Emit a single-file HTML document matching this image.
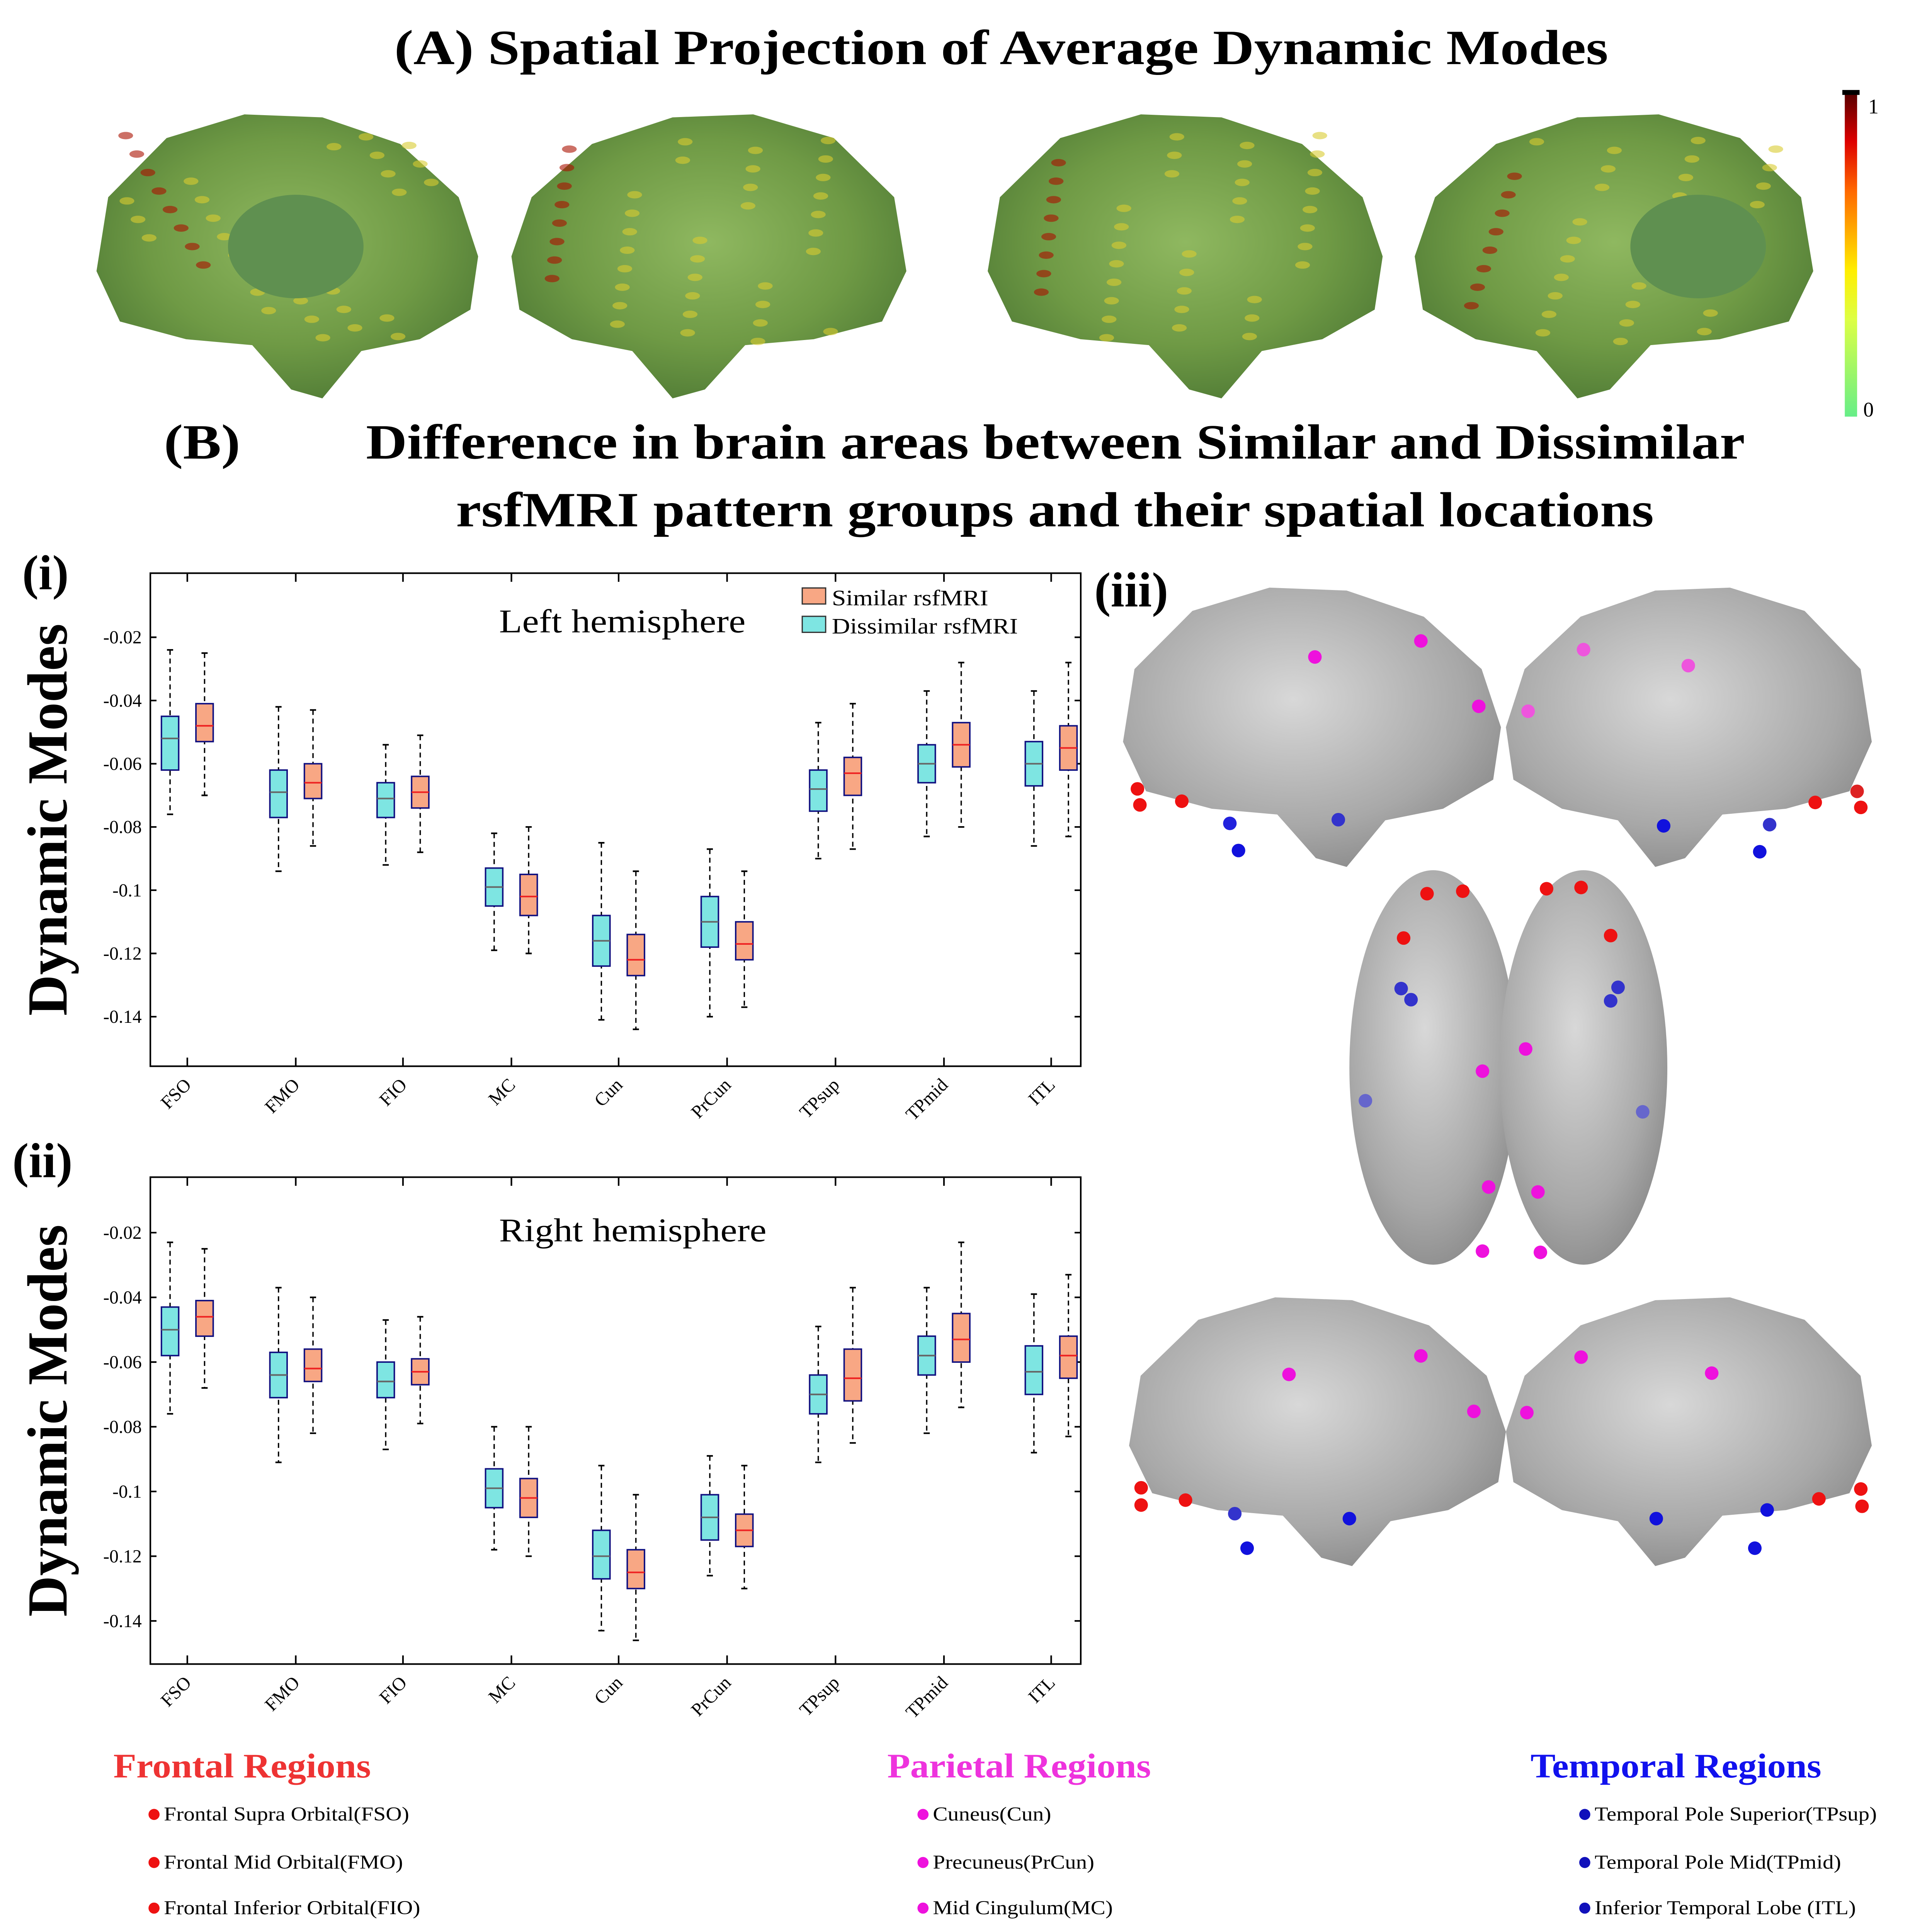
<!DOCTYPE html>
<html><head><meta charset="utf-8"><style>
html,body{margin:0;padding:0;background:#fff;overflow:hidden;width:5005px;height:5087px}
svg{display:block}
</style></head><body>
<svg id="s" xmlns="http://www.w3.org/2000/svg" width="4921" height="5002" viewBox="0 0 1543 1568" preserveAspectRatio="none" font-family="Liberation Serif, serif">
<defs>
<linearGradient id="cb" x1="0" y1="1" x2="0" y2="0">
<stop offset="0" stop-color="#66ee88"/><stop offset="0.3" stop-color="#ddff44"/><stop offset="0.45" stop-color="#ffee00"/><stop offset="0.7" stop-color="#ff6600"/><stop offset="0.85" stop-color="#dd0000"/><stop offset="1" stop-color="#550000"/></linearGradient>
<radialGradient id="gb" cx="0.5" cy="0.45" r="0.6"><stop offset="0" stop-color="#8fb860"/><stop offset="0.6" stop-color="#6f9a45"/><stop offset="1" stop-color="#4f7a35"/></radialGradient>
<radialGradient id="gr" cx="0.45" cy="0.4" r="0.65"><stop offset="0" stop-color="#d8d8d8"/><stop offset="0.7" stop-color="#a8a8a8"/><stop offset="1" stop-color="#8a8a8a"/></radialGradient>
</defs>
<g font-weight="bold" fill="#000" font-size="40">
<text x="320" y="52" textLength="985" lengthAdjust="spacingAndGlyphs">(A) Spatial Projection of Average Dynamic Modes</text>
<text x="133" y="372" textLength="62" lengthAdjust="spacingAndGlyphs">(B)</text>
<text x="297" y="372" textLength="1119" lengthAdjust="spacingAndGlyphs">Difference in brain areas between Similar and Dissimilar</text>
<text x="370" y="427" textLength="972" lengthAdjust="spacingAndGlyphs">rsfMRI pattern groups and their spatial locations</text>
<text x="18" y="478" font-size="40">(i)</text>
<text x="10" y="955" font-size="40">(ii)</text>
<text x="888" y="492" font-size="40">(iii)</text>
</g>
<g id="brainsA"></g>
<rect x="1497" y="75" width="10" height="263" fill="url(#cb)"/>
<rect x="1495" y="73" width="14" height="4" fill="#000"/>
<text x="1516" y="92" font-size="17">1</text>
<text x="1512" y="338" font-size="17">0</text>
<g id="charts"></g>
<g id="brainsB"></g>
<g font-size="28" font-weight="bold">
<text x="92" y="1442" fill="#ee3333" textLength="209" lengthAdjust="spacingAndGlyphs">Frontal Regions</text>
<text x="720" y="1442" fill="#ee33dd" textLength="214" lengthAdjust="spacingAndGlyphs">Parietal Regions</text>
<text x="1242" y="1442" fill="#1111ee" textLength="236" lengthAdjust="spacingAndGlyphs">Temporal Regions</text>
</g>
<g font-size="16" fill="#000">
<circle cx="125" cy="1472" r="4.5" fill="#ee1111"/><text x="133" y="1477" textLength="199" lengthAdjust="spacingAndGlyphs">Frontal Supra Orbital(FSO)</text>
<circle cx="125" cy="1511" r="4.5" fill="#ee1111"/><text x="133" y="1516" textLength="194" lengthAdjust="spacingAndGlyphs">Frontal Mid Orbital(FMO)</text>
<circle cx="125" cy="1548" r="4.5" fill="#ee1111"/><text x="133" y="1553" textLength="208" lengthAdjust="spacingAndGlyphs">Frontal Inferior Orbital(FIO)</text>
<circle cx="749" cy="1472" r="4.5" fill="#ee11dd"/><text x="757" y="1477" textLength="96" lengthAdjust="spacingAndGlyphs">Cuneus(Cun)</text>
<circle cx="749" cy="1511" r="4.5" fill="#ee11dd"/><text x="757" y="1516" textLength="131" lengthAdjust="spacingAndGlyphs">Precuneus(PrCun)</text>
<circle cx="749" cy="1548" r="4.5" fill="#ee11dd"/><text x="757" y="1553" textLength="146" lengthAdjust="spacingAndGlyphs">Mid Cingulum(MC)</text>
<circle cx="1286" cy="1472" r="4.5" fill="#1111bb"/><text x="1294" y="1477" textLength="229" lengthAdjust="spacingAndGlyphs">Temporal Pole Superior(TPsup)</text>
<circle cx="1286" cy="1511" r="4.5" fill="#1111bb"/><text x="1294" y="1516" textLength="200" lengthAdjust="spacingAndGlyphs">Temporal Pole Mid(TPmid)</text>
<circle cx="1286" cy="1548" r="4.5" fill="#1111bb"/><text x="1294" y="1553" textLength="212" lengthAdjust="spacingAndGlyphs">Inferior Temporal Lobe (ITL)</text>
</g>
</svg>
<script>
var NS="http://www.w3.org/2000/svg";
function el(p,t,a,txt){var e=document.createElementNS(NS,t);for(var k in a)e.setAttribute(k,a[k]);if(txt!=null)e.textContent=txt;p.appendChild(e);return e;}
var bA=document.getElementById("brainsA");
function brain(g,x0,x1,y0,y1,fill,flip){
 var w=x1-x0,h=y1-y0;
 var pts=[[0.02,0.55],[0.05,0.3],[0.2,0.1],[0.4,0.02],[0.6,0.03],[0.8,0.12],[0.95,0.3],[1,0.5],[0.98,0.68],[0.85,0.78],[0.7,0.82],[0.6,0.98],[0.52,0.95],[0.42,0.8],[0.25,0.78],[0.08,0.72]];
 var d="M";pts.forEach(function(p,i){var px=flip?(1-p[0]):p[0];d+=(x0+px*w).toFixed(1)+","+(y0+p[1]*h).toFixed(1)+(i<pts.length-1?" L":"");});
 el(g,"path",{d:d+"Z",fill:fill,stroke:"none","stroke-linejoin":"round"});
}
[[72,388,false],[415,742,true],[795,1122,false],[1148,1478,true]].forEach(function(b,i){
 brain(bA,b[0],b[1],88,328,"url(#gb)",b[2]);
 for(var k=0;k<40;k++){var rx=b[0]+30+((k*53+i*17)%(b[1]-b[0]-60)),ry=110+((k*37+i*11)%170);
  el(bA,"ellipse",{cx:rx,cy:ry,rx:6,ry:3,fill:k%5==0?"#aa1100":"#d8cc30",opacity:0.6});}
});
[[180,0],[1318,0]].forEach(function(c){el(bA,"ellipse",{cx:c[0]+60,cy:200,rx:55,ry:42,fill:"#5f9050"});});
var C=document.getElementById("charts");
var cats=["FSO","FMO","FIO","MC","Cun","PrCun","TPsup","TPmid","ITL"];
var tx=[152,240,327,415,502,590,678,766,853];
var L=[[[-.024,-.076,-.045,-.062,-.052],[-.025,-.070,-.041,-.053,-.048]],
[[-.042,-.094,-.062,-.077,-.069],[-.043,-.086,-.060,-.071,-.066]],
[[-.054,-.092,-.066,-.077,-.071],[-.051,-.088,-.064,-.074,-.069]],
[[-.082,-.119,-.093,-.105,-.099],[-.080,-.120,-.095,-.108,-.102]],
[[-.085,-.141,-.108,-.124,-.116],[-.094,-.144,-.114,-.127,-.122]],
[[-.087,-.140,-.102,-.118,-.110],[-.094,-.137,-.110,-.122,-.117]],
[[-.047,-.090,-.062,-.075,-.068],[-.041,-.087,-.058,-.070,-.063]],
[[-.037,-.083,-.054,-.066,-.060],[-.028,-.080,-.047,-.061,-.054]],
[[-.037,-.086,-.053,-.067,-.060],[-.028,-.083,-.048,-.062,-.055]]];
var R=[[[-.023,-.076,-.043,-.058,-.050],[-.025,-.068,-.041,-.052,-.046]],
[[-.037,-.091,-.057,-.071,-.064],[-.040,-.082,-.056,-.066,-.062]],
[[-.047,-.087,-.060,-.071,-.066],[-.046,-.079,-.059,-.067,-.063]],
[[-.080,-.118,-.093,-.105,-.099],[-.080,-.120,-.096,-.108,-.102]],
[[-.092,-.143,-.112,-.127,-.120],[-.101,-.146,-.118,-.130,-.125]],
[[-.089,-.126,-.101,-.115,-.108],[-.092,-.130,-.107,-.117,-.112]],
[[-.049,-.091,-.064,-.076,-.070],[-.037,-.085,-.056,-.072,-.065]],
[[-.037,-.082,-.052,-.064,-.058],[-.023,-.074,-.045,-.060,-.053]],
[[-.039,-.088,-.055,-.070,-.063],[-.033,-.083,-.052,-.065,-.058]]];
function chart(top,bot,y02,step,data,title,legend){
 var g=el(C,"g",{});
 var Y=function(v){return y02+(-0.02-v)/0.02*step;};
 el(g,"rect",{x:122,y:top,width:755,height:bot-top,fill:"none",stroke:"#000","stroke-width":1.3});
 var labs=["-0.02","-0.04","-0.06","-0.08","-0.1","-0.12","-0.14"];
 labs.forEach(function(l,i){var y=y02+i*step;
  el(g,"line",{x1:122,x2:127,y1:y,y2:y,stroke:"#000","stroke-width":1.3});
  el(g,"line",{x1:872,x2:877,y1:y,y2:y,stroke:"#000","stroke-width":1.3});
  el(g,"text",{x:115,y:y+5,"text-anchor":"end","font-size":15},l);});
 tx.forEach(function(x,i){
  el(g,"line",{x1:x,x2:x,y1:bot,y2:bot-7,stroke:"#000","stroke-width":1.3});
  el(g,"line",{x1:x,x2:x,y1:top,y2:top+7,stroke:"#000","stroke-width":1.3});
  el(g,"text",{x:x+4,y:bot+16,"text-anchor":"end","font-size":15,transform:"rotate(-45 "+(x+4)+" "+(bot+16)+")"},cats[i]);
  [0,1].forEach(function(j){var d=data[i][j],cx=x+(j?14:-14),col=j?"#f8a784":"#7ee5e2",mc=j?"#ee2222":"#666";
   el(g,"line",{x1:cx,x2:cx,y1:Y(d[0]),y2:Y(d[1]),stroke:"#000","stroke-width":1.1,"stroke-dasharray":"4,3"});
   el(g,"line",{x1:cx-2.5,x2:cx+2.5,y1:Y(d[0]),y2:Y(d[0]),stroke:"#000","stroke-width":1.3});
   el(g,"line",{x1:cx-2.5,x2:cx+2.5,y1:Y(d[1]),y2:Y(d[1]),stroke:"#000","stroke-width":1.3});
   el(g,"rect",{x:cx-7,y:Y(d[2]),width:14,height:Y(d[3])-Y(d[2]),fill:col,stroke:"#101080","stroke-width":1.2});
   el(g,"line",{x1:cx-7,x2:cx+7,y1:Y(d[4]),y2:Y(d[4]),stroke:mc,"stroke-width":1.3});});
 });
 el(g,"text",{x:405,y:top+(legend?48:52),"font-size":27,textLength:(legend?200:217),lengthAdjust:"spacingAndGlyphs"},title);
 if(legend){
  el(g,"rect",{x:651,y:477,width:19,height:13,fill:"#f8a784",stroke:"#333"});
  el(g,"text",{x:675,y:491,"font-size":18,textLength:127,lengthAdjust:"spacingAndGlyphs"},"Similar rsfMRI");
  el(g,"rect",{x:651,y:500,width:19,height:13,fill:"#7ee5e2",stroke:"#333"});
  el(g,"text",{x:675,y:514,"font-size":18,textLength:151,lengthAdjust:"spacingAndGlyphs"},"Dissimilar rsfMRI");
 }
 el(g,"text",{x:0,y:0,"font-size":46,"font-weight":"bold","text-anchor":"middle",transform:"translate(54 "+((top+bot)/2)+") rotate(-90)"},"Dynamic Modes");
}
chart(465,865,517,51.3,L,"Left hemisphere",true);
chart(955,1350,1000,52.5,R,"Right hemisphere",false);
var bB=document.getElementById("brainsB");
brain(bB,905,1218,472,708,"url(#gr)",false);
brain(bB,1222,1525,472,708,"url(#gr)",true);
brain(bB,910,1222,1048,1275,"url(#gr)",false);
brain(bB,1222,1525,1048,1275,"url(#gr)",true);
el(bB,"ellipse",{cx:1163,cy:866,rx:68,ry:160,fill:"url(#gr)"});
el(bB,"ellipse",{cx:1285,cy:866,rx:68,ry:160,fill:"url(#gr)"});
var dots=[[1067,533,"#ee11dd"],[1153,520,"#ee11dd"],[1200,573,"#ee11dd"],[923,640,"#ee1111"],[925,653,"#ee1111"],[959,650,"#ee1111"],[998,668,"#2222dd"],[1005,690,"#1111dd"],[1086,665,"#3333cc"],
[1285,527,"#ee55dd"],[1370,540,"#ee55dd"],[1240,577,"#ee55dd"],[1507,642,"#dd2222"],[1510,655,"#ee1111"],[1473,651,"#ee1111"],[1350,670,"#1111dd"],[1436,669,"#3333cc"],[1428,691,"#1111dd"],
[1158,725,"#ee1111"],[1187,723,"#ee1111"],[1255,721,"#ee1111"],[1283,720,"#ee1111"],[1139,761,"#ee1111"],[1307,759,"#ee1111"],[1137,802,"#3333cc"],[1145,811,"#3333cc"],[1313,801,"#3333cc"],[1307,812,"#3333cc"],[1203,869,"#ee11dd"],[1238,851,"#ee11dd"],[1108,893,"#6666cc"],[1333,902,"#6666cc"],[1208,963,"#ee11dd"],[1248,967,"#ee11dd"],[1203,1015,"#ee11dd"],[1250,1016,"#ee11dd"],
[1046,1115,"#ee11dd"],[1153,1100,"#ee11dd"],[1196,1145,"#ee11dd"],[926,1207,"#ee1111"],[926,1221,"#ee1111"],[962,1217,"#ee1111"],[1002,1228,"#3333cc"],[1012,1256,"#1111dd"],[1095,1232,"#1111dd"],
[1283,1101,"#ee11dd"],[1389,1114,"#ee11dd"],[1239,1146,"#ee11dd"],[1510,1208,"#ee1111"],[1511,1222,"#ee1111"],[1476,1216,"#ee1111"],[1344,1232,"#1111dd"],[1434,1225,"#1111dd"],[1424,1256,"#1111dd"]];
dots.forEach(function(d){el(bB,"circle",{cx:d[0],cy:d[1],r:5.5,fill:d[2]});});
</script>
</body></html>
